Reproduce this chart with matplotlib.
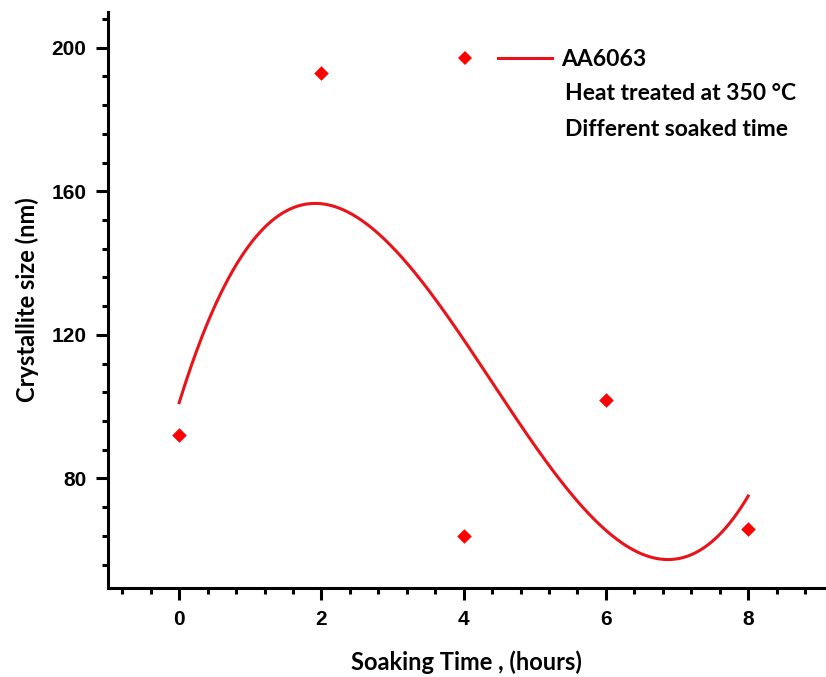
import numpy as np
import matplotlib.pyplot as plt
from matplotlib.ticker import MultipleLocator
from matplotlib.lines import Line2D
from matplotlib.legend_handler import HandlerTuple

# soaking time (h) and crystallite size (nm)
hours = np.array([0, 2, 4, 6, 8])
size_nm = np.array([92.0, 193.0, 64.0, 102.0, 66.0])

# third order polynomial fit through the measurements
coef = np.polyfit(hours, size_nm, 3)
xs = np.linspace(0, 8, 300)
fit = np.polyval(coef, xs)

label_font = 'Lato'
tick_font = 'Liberation Sans'

fig = plt.figure(figsize=(8.26, 6.77), dpi=100)
ax = fig.add_axes([0.1308, 0.1315, 0.868, 0.851])

ax.scatter(hours, size_nm, marker='D', s=55, c='red', linewidths=0, zorder=3)
ax.plot(xs, fit, color='#e8141a', lw=2.2)

ax.set_xlim(-1.0, 9.08)
ax.set_ylim(49.5, 210)
ax.xaxis.set_major_locator(MultipleLocator(2))
ax.xaxis.set_minor_locator(MultipleLocator(0.4))
ax.yaxis.set_major_locator(MultipleLocator(40))
ax.yaxis.set_minor_locator(MultipleLocator(8))

for s in ['top', 'right']:
    ax.spines[s].set_visible(False)
for s in ['left', 'bottom']:
    ax.spines[s].set_linewidth(2.2)
ax.tick_params(which='major', direction='out', length=8.5, width=2.2, pad=7)
ax.tick_params(which='minor', direction='out', length=4.5, width=2.2)
for lab in ax.get_xticklabels() + ax.get_yticklabels():
    lab.set_fontfamily(tick_font)
    lab.set_fontweight('bold')
    lab.set_fontsize(15)

ax.set_xlabel('Soaking Time , (hours)', fontsize=17, fontweight='bold',
              fontfamily=label_font, labelpad=16)
ax.set_ylabel('Crystallite size (nm)', fontsize=17, fontweight='bold',
              fontfamily=label_font, labelpad=9)

# legend: symbol and fit line on one entry
sym = Line2D([], [], marker='D', ls='none', color='red', ms=7.5, mew=0)
ln = Line2D([], [], color='#e8141a', lw=2.2)
ax.legend([(sym, ln)], ['AA6063'], handler_map={tuple: HandlerTuple(ndivide=None, pad=0.3)},
          loc='upper left', bbox_to_anchor=(0.431, 0.972), frameon=False,
          handlelength=5.0, handletextpad=0.4,
          prop={'family': label_font, 'weight': 'bold', 'size': 16.5})
ax.text(0.637, 0.858, 'Heat treated at 350 °C', transform=ax.transAxes,
        fontsize=16.5, fontweight='bold', fontfamily=label_font, va='center')
ax.text(0.637, 0.795, 'Different soaked time', transform=ax.transAxes,
        fontsize=16.5, fontweight='bold', fontfamily=label_font, va='center')

fig.savefig('out.png', dpi=100)
